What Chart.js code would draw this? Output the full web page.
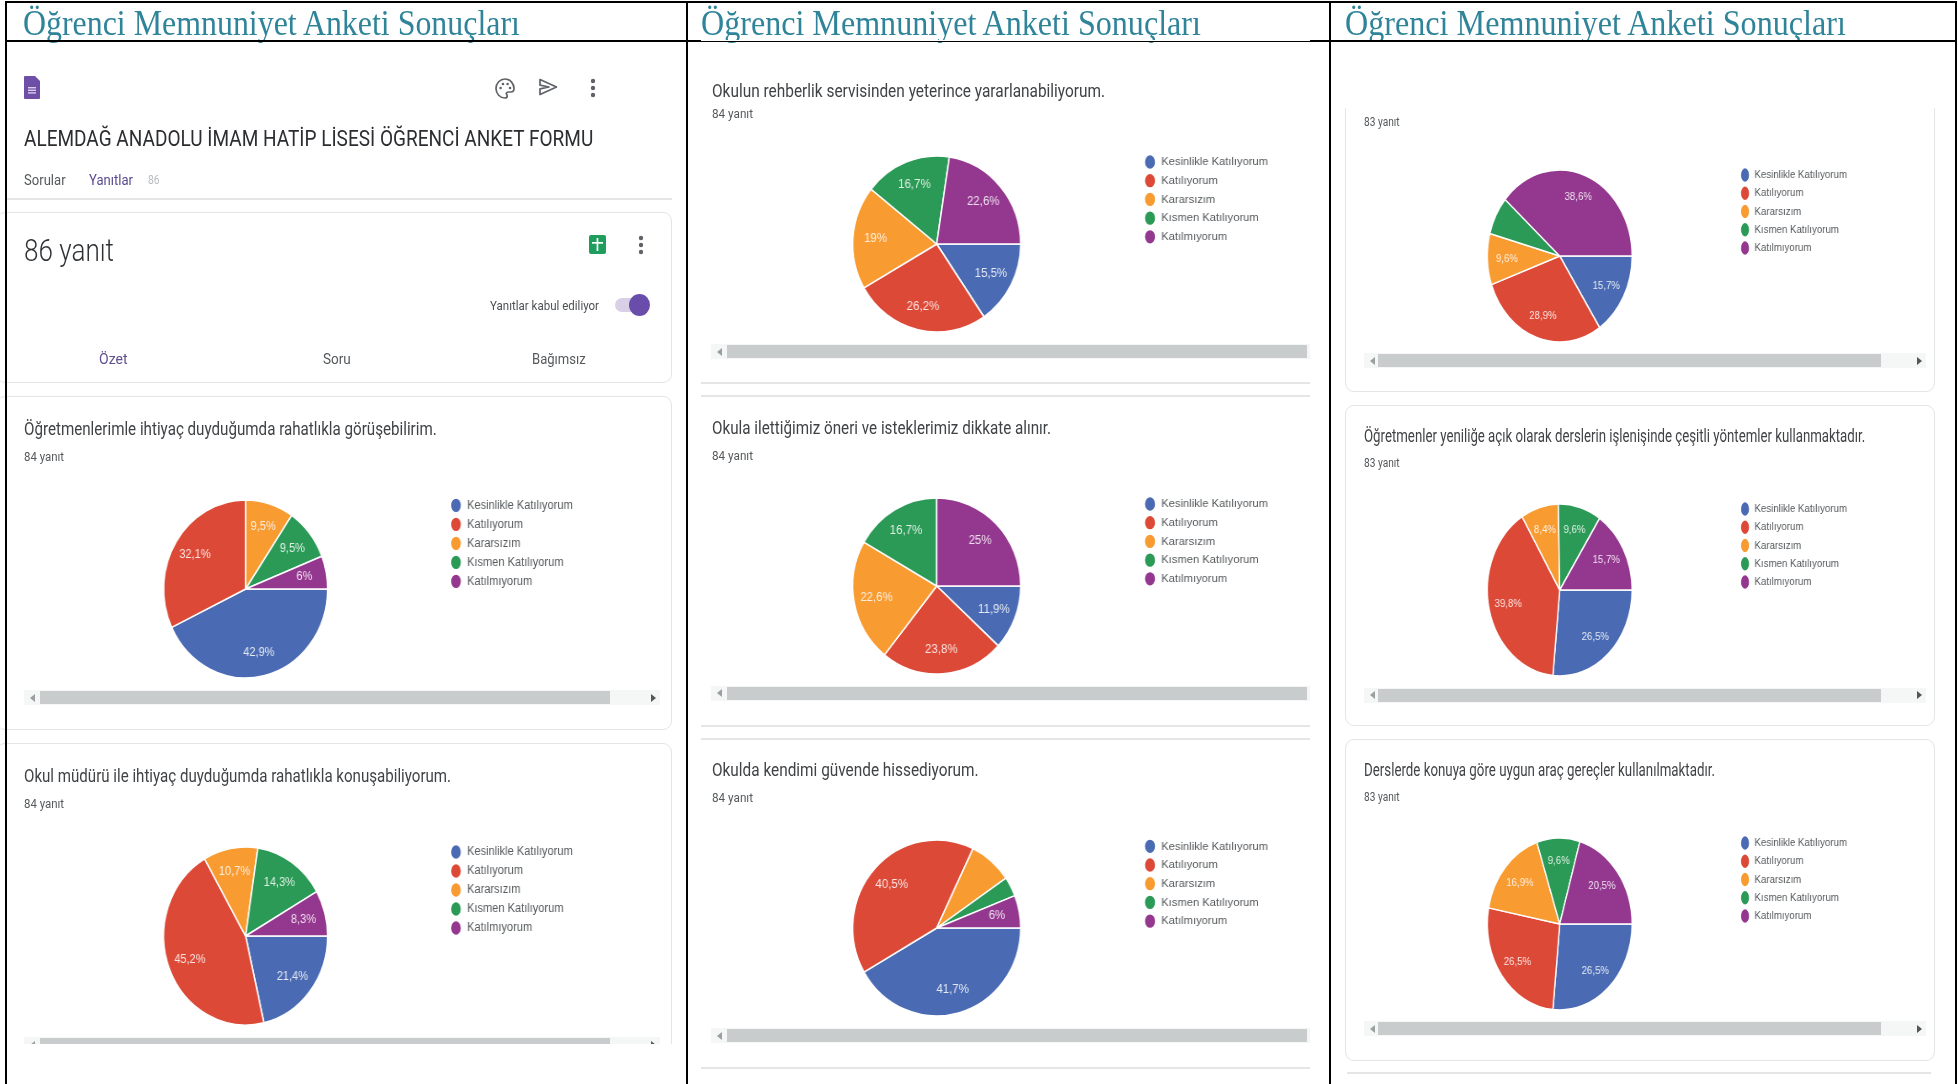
<!DOCTYPE html>
<html lang="tr">
<head>
<meta charset="utf-8">
<title>Öğrenci Memnuniyet Anketi Sonuçları</title>
<script src="https://cdn.jsdelivr.net/npm/chart.js@4/dist/chart.umd.min.js"></script>
<style>
html,body{margin:0;padding:0;background:#fff;width:1958px;height:1084px;overflow:hidden}
#page{position:absolute;left:0;top:0;width:1958px;height:1084px;overflow:hidden;background:#fff}
.t{position:absolute;white-space:nowrap;transform-origin:0 50%;line-height:1;filter:blur(.35px)}
.b{position:absolute;box-sizing:border-box}
canvas{position:absolute;transform-origin:0 0;filter:blur(.35px)}
svg{position:absolute;overflow:visible;filter:blur(.3px)}
</style>
</head>
<body>
<div id="page"></div>
<script>
const categories = ["Kesinlikle Katılıyorum","Katılıyorum","Kararsızım","Kısmen Katılıyorum","Katılmıyorum"];
const sliceColors = ["#4a6bb3","#dd4937","#f89b31","#2b9a56","#94378f"];

const valuesQ1 = [42.9,32.1,9.5,9.5,6];
const valuesQ2 = [21.4,45.2,10.7,14.3,8.3];
const valuesQ3 = [15.5,26.2,19,16.7,22.6];
const valuesQ4 = [11.9,23.8,22.6,16.7,25];
const valuesQ5 = [41.7,40.5,8.3,3.6,6];
const valuesQ6 = [15.7,28.9,9.6,7.2,38.6];
const valuesQ7 = [26.5,39.8,8.4,9.6,15.7];
const valuesQ8 = [26.5,26.5,16.9,9.6,20.5];

// Slices too small for the survey page to print a label are left out.
const hiddenQ5 = [2,3];
const hiddenQ6 = [3];

const pageTitle = "Öğrenci Memnuniyet Anketi Sonuçları";
const formTitle = "ALEMDAĞ ANADOLU İMAM HATİP LİSESİ ÖĞRENCİ ANKET FORMU";
const questions = [
  "Öğretmenlerimle ihtiyaç duyduğumda rahatlıkla görüşebilirim.",
  "Okul müdürü ile ihtiyaç duyduğumda rahatlıkla konuşabiliyorum.",
  "Okulun rehberlik servisinden yeterince yararlanabiliyorum.",
  "Okula ilettiğimiz öneri ve isteklerimiz dikkate alınır.",
  "Okulda kendimi güvende hissediyorum.",
  "Öğretmenler yeniliğe açık olarak derslerin işlenişinde çeşitli yöntemler kullanmaktadır.",
  "Derslerde konuya göre uygun araç gereçler kullanılmaktadır."
];

const page = document.getElementById('page');
const ROBOTO = 'Roboto, Arial, sans-serif';
const ARIAL = '"Liberation Sans", Arial, sans-serif';

function box(x,y,w,h,css){
  const d=document.createElement('div');d.className='b';
  d.style.cssText=`left:${x}px;top:${y}px;width:${w}px;height:${h}px;`+(css||'');
  page.appendChild(d);return d;
}
// Text placed by left edge + vertical centre, squeezed to the width seen in the picture.
function text(str,x,yc,size,color,targetW,opts){
  opts=opts||{};
  const d=document.createElement('div');d.className='t';d.textContent=str;
  d.style.cssText=`left:${x}px;font:${opts.weight||400} ${size}px ${opts.font||ROBOTO};color:${color};`+(opts.css||'');
  page.appendChild(d);
  const w=d.offsetWidth,h=d.offsetHeight;
  d.style.top=(yc-h/2)+'px';
  if(targetW){d.style.transform=`scaleX(${targetW/w})`;}
  if(opts.center){d.style.left=(x-(targetW||w)/2)+'px';}
  return d;
}
function svg(x,y,w,h,inner){
  const s=document.createElementNS('http://www.w3.org/2000/svg','svg');
  s.setAttribute('width',w);s.setAttribute('height',h);s.setAttribute('viewBox',`0 0 ${w} ${h}`);
  s.style.left=x+'px';s.style.top=y+'px';s.innerHTML=inner;page.appendChild(s);return s;
}
function dots(cx,cy){
  svg(cx-3,cy-10,6,20,`<circle cx="3" cy="3" r="2.2" fill="#5f6368"/><circle cx="3" cy="10" r="2.2" fill="#5f6368"/><circle cx="3" cy="17" r="2.2" fill="#5f6368"/>`);
}
function scrollbar(tx,tw,y,h,thumbL,thumbR,rightArrow){
  box(tx,y-1,tw,h+2,'background:#f5f6f6');
  box(thumbL,y,thumbR-thumbL,h,'background:#c8cccd');
  svg(tx+6,y+h/2-4,5,8,'<polygon points="5,0 5,8 0,4" fill="#9aa0a0"/>');
  if(rightArrow!=null) svg(rightArrow-2,y+h/2-4,5,8,'<polygon points="0,0 0,8 5,4" fill="#555"/>');
}

/* --- chart drawing --- */
const placePlugin={
  id:'place',
  afterLayout(c){
    const o=c.options.plugins.place, a=c.chartArea, l=c.legend;
    a.left=o.cx-o.r; a.right=o.cx+o.r; a.top=o.cy-o.r; a.bottom=o.cy+o.r;
    a.width=a.height=2*o.r;
    const dx=o.lx-l.left, dy=o.ly-l.top;
    l.left+=dx;l.right+=dx;l.top+=dy;l.bottom+=dy;
    (l.legendHitBoxes||[]).forEach(b=>{b.left+=dx;b.top+=dy;});
  },
  afterDatasetsDraw(c){
    const o=c.options.plugins.place, ctx=c.ctx, ds=c.data.datasets[0];
    ctx.save();
    ctx.font=`${o.labelSize}px ${ARIAL}`;
    ctx.fillStyle='rgba(255,255,255,.85)';
    ctx.textAlign='center';ctx.textBaseline='middle';
    c.getDatasetMeta(0).data.forEach((arc,i)=>{
      if(o.hidden.includes(i)) return;
      const p=arc.getProps(['x','y','startAngle','endAngle','outerRadius'],true);
      const m=(p.startAngle+p.endAngle)/2;
      const t=String(ds.data[i]).replace('.',',')+'%';
      ctx.fillText(t,p.x+Math.cos(m)*p.outerRadius*0.73,p.y+Math.sin(m)*p.outerRadius*0.73);
    });
    ctx.restore();
  }
};
/* pie: page centre (cx,cy), radii rx/ry; legend first row centred at ly, dot centre at lx */
function pie(values,hidden,g){
  const s=g.rx/g.ry;
  const L=g.left, T=g.cy-g.ry-12, W=(g.colW)/s, H=2*g.ry+24;
  const cv=document.createElement('canvas');
  cv.style.left=L+'px';cv.style.top=T+'px';cv.style.transform=`scaleX(${s})`;
  page.appendChild(cv);cv.width=Math.round(W);cv.height=H;cv.style.width=Math.round(W)+'px';cv.style.height=H+'px';
  const bw=g.box;                    // legend marker box
  new Chart(cv,{
    type:'pie',
    data:{labels:categories,datasets:[{data:values,backgroundColor:sliceColors,borderColor:'#ffffff',borderWidth:1.5}]},
    plugins:[placePlugin],
    options:{
      responsive:false,animation:false,rotation:90,
      layout:{padding:0},
      plugins:{
        tooltip:{enabled:false},
        legend:{display:true,position:'right',align:'start',
          labels:{usePointStyle:true,pointStyle:'circle',boxHeight:10.5,boxWidth:bw,pointStyleWidth:bw,
            font:{family:ARIAL,size:g.fs},color:'#55595c',padding:g.step-g.fs}},
        place:{cx:(g.cx-L)/s,cy:g.cy-T,r:g.ry+0.75,
          lx:(g.lx-L)/s-bw/2-(g.step-g.fs),
          ly:g.ly-T-g.fs/2-(g.step-g.fs),
          labelSize:g.fs+g.labelDelta,hidden}
      }
    }
  });
}

[[23,497],[701,500],[1345,501]].forEach(([x,w])=>
  text(pageTitle,x,22.5,36,'#2f8499',w,{font:'"Liberation Serif","Times New Roman",serif'}));

const Q='#404346', SUB='#55595c', LINE='#e3e5e6';

/* --- column 1 --- */
svg(24,76,16,23,`<path d="M1 0H11L16 5V22a1 1 0 0 1-1 1H1a1 1 0 0 1-1-1V1a1 1 0 0 1 1-1z" fill="#6e4fa8"/><rect x="4" y="11" width="8" height="1.4" fill="#d8cfe9"/><rect x="4" y="13.6" width="8" height="1.4" fill="#d8cfe9"/><rect x="4" y="16.2" width="8" height="1.4" fill="#d8cfe9"/>`);
svg(495,78,20,21,`<path d="M10 1a9 9.5 0 0 0 0 19c1.6 0 2.2-1 2.2-2 0-1.4-1.2-1.8-.8-3 .3-.8 1-1 2-1h2.4c1.8 0 3.2-1.5 3.2-3.5C19 5.4 15 1 10 1z" fill="none" stroke="#5f6368" stroke-width="1.7"/><circle cx="5.6" cy="10" r="1.3" fill="#5f6368"/><circle cx="8" cy="6" r="1.3" fill="#5f6368"/><circle cx="12.6" cy="6" r="1.3" fill="#5f6368"/><circle cx="15" cy="10" r="1.3" fill="#5f6368"/>`);
svg(539,78,19,18,`<path d="M1 1.5L17.5 9L1 16.5V10.8L10 9L1 7.2z" fill="none" stroke="#5f6368" stroke-width="1.7" stroke-linejoin="round"/>`);
dots(593,88);
text(formTitle,24,138,21.5,'#2b2d30',569);
text('Sorular',24,180,14,'#55595c',42);
text('Yanıtlar',89,180,14,'#5b4a8e',44);
text('86',148,180,12,'#b9bcbe',12);
box(7,198,665,2,`background:${LINE}`);
box(-4,212,676,171,`border:1.5px solid ${LINE};border-radius:9px;background:#fff`);
text('86 yanıt',24,250,31,'#303336',90,{weight:300});
box(589,235,17,19,'background:#1f9d5c;border-radius:2px');
svg(589,235,17,19,'<rect x="7.6" y="3" width="1.7" height="13" fill="#fff"/><rect x="3" y="7" width="11" height="1.7" fill="#fff"/>');
dots(641,245);
text('Yanıtlar kabul ediliyor',490,305,13,'#4d5154',109);
box(615,298,28,14,'background:#d9d0e8;border-radius:7px');
box(629,294,21,22,'background:#6a4dab;border-radius:50%');
text('Özet',113,359,15,'#5f4f8f',29,{center:true});
text('Soru',336.5,359,15,'#55595c',28,{center:true});
text('Bağımsız',559,359,15,'#55595c',54,{center:true});

const c1={left:8,colW:660,rx:82,ry:89,lx:456,fs:12,step:19,box:12,labelDelta:0};
box(-4,396,676,334,`border:1.5px solid ${LINE};border-radius:9px;background:#fff`);
text(questions[0],24,429,17.5,Q,413);
text('84 yanıt',24,457,12,SUB,40);
pie(valuesQ1,[],{...c1,cx:245.6,cy:588.6,ly:505});
scrollbar(24,636,691,13,40,610,653);

box(-4,743,676,400,`border:1.5px solid ${LINE};border-radius:9px;background:#fff`);
text(questions[1],24,775.5,17.5,Q,427);
text('84 yanıt',24,804,12,SUB,40);
pie(valuesQ2,[],{...c1,cx:245.6,cy:935.5,ly:851.5});
scrollbar(24,636,1038,13,40,610,653);
box(7,1044,678,40,'background:#fff');

/* --- column 2 --- */
const c2={left:689,colW:638,rx:84,ry:88,lx:1150,fs:11.7,step:18.7,box:12,labelDelta:0.3};
text(questions[2],711.5,91,17.5,Q,393);
text('84 yanıt',711.5,114,12,SUB,41);
pie(valuesQ3,[],{...c2,cx:936.7,cy:244,ly:162});
scrollbar(711,599,345,13,726.5,1307,null);
box(701,382,609,2,`background:${LINE}`);
box(701,395,609,2,`background:${LINE}`);

text(questions[3],711.5,428,17.5,Q,339);
text('84 yanıt',711.5,455.6,12,SUB,41);
pie(valuesQ4,[],{...c2,cx:936.7,cy:586,ly:504});
scrollbar(711,599,686.5,13,726.5,1307,null);
box(701,725,609,2,`background:${LINE}`);
box(701,738,609,2,`background:${LINE}`);

text(questions[4],711.5,769.7,17.5,Q,267);
text('84 yanıt',711.5,797.8,12,SUB,41);
pie(valuesQ5,hiddenQ5,{...c2,cx:936.7,cy:928,ly:846.3});
scrollbar(711,599,1029,13,726.5,1307,null);
box(701,1067,609,2,`background:${LINE}`);

/* --- column 3 --- */
const c3={left:1332,colW:620,rx:72.4,ry:86,lx:1745,fs:11.5,step:18.25,box:11,labelDelta:0};
box(1345,60,590,332,`border:1.5px solid ${LINE};border-radius:9px;background:#fff`);
box(1332,42,620,66,'background:#fff');
text('83 yanıt',1364,122,12,SUB,35.5);
pie(valuesQ6,hiddenQ6,{...c3,cx:1559.7,cy:256,ly:175});
scrollbar(1364,562,354,13,1378,1881,1918.5);

box(1345,405,590,321,`border:1.5px solid ${LINE};border-radius:9px;background:#fff`);
text(questions[5],1364,435.6,17.5,Q,501.6);
text('83 yanıt',1364,462.5,12,SUB,35.5);
pie(valuesQ7,[],{...c3,cx:1559.7,cy:590,ly:509});
scrollbar(1364,562,688.5,13,1378,1881,1918.5);

box(1345,739,590,321.5,`border:1.5px solid ${LINE};border-radius:9px;background:#fff`);
text(questions[6],1364,769.7,17.5,Q,351);
text('83 yanıt',1364,797,12,SUB,35.5);
pie(valuesQ8,[],{...c3,cx:1559.7,cy:924,ly:843});
scrollbar(1364,562,1022,13,1378,1881,1918.5);
box(1347,1072,584,1.5,`background:${LINE}`);

/* --- frame, drawn last so it stays on top of the cards --- */
box(5,1,1951,2,'background:#000');
box(5,1,2,1083,'background:#000');
box(686,1,2,1083,'background:#000');
box(1329,1,2,1083,'background:#000');
box(1955,1,2,1083,'background:#000');
box(5,40,1951,2,'background:#000');
box(701,40,609,1,'background:#fff');
</script>
</body>
</html>
